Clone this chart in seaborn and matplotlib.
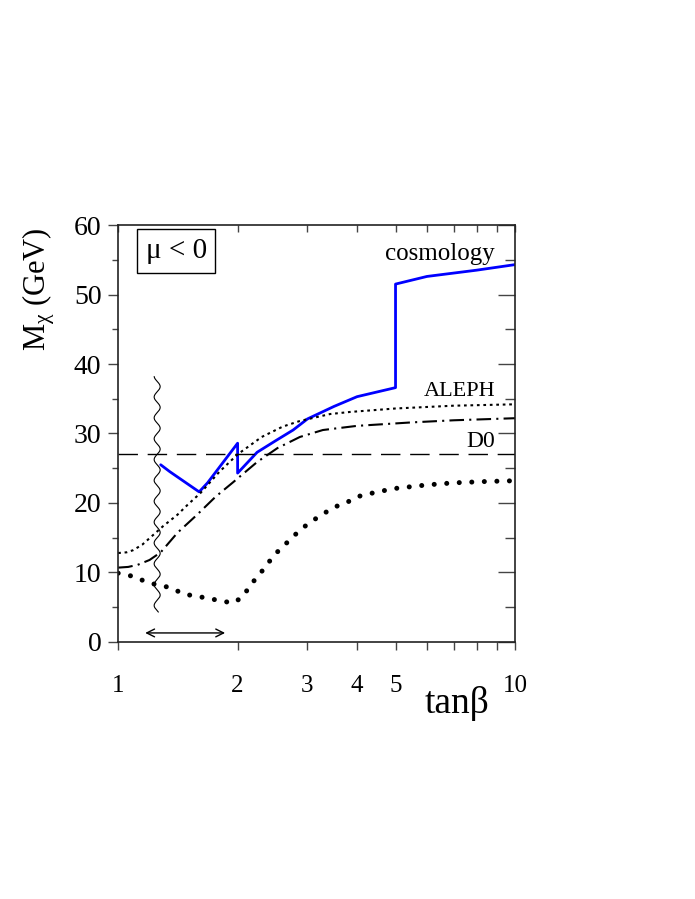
#!/usr/bin/env python3
"""
plot.py — neutralino mass limit vs tan(beta), mu < 0.
"""

import numpy as np
import pandas as pd
import matplotlib
matplotlib.use("Agg")
import matplotlib.pyplot as plt
from matplotlib.ticker import FixedLocator, NullFormatter
import seaborn as sns

# ---------------------------------------------------------------------------
# Data
# ---------------------------------------------------------------------------

cosmo_tanb = [1.28, 1.35, 1.60, 1.68, 2.00, 2.00, 2.24, 2.50, 2.76, 3.00, 3.50,
              4.00, 5.00, 5.00, 6.00, 8.00, 10.0]
cosmo_mass = [25.5, 24.5, 21.6, 22.9, 28.6, 24.3, 27.3, 29.0, 30.5, 32.1, 33.9,
              35.3, 36.6, 51.5, 52.6, 53.5, 54.3]

aleph_tanb = [1.00, 1.05, 1.09, 1.15, 1.22, 1.30, 1.41, 1.50, 1.61, 1.80, 2.00,
              2.30, 2.60, 2.87, 3.42, 3.84, 5.00, 7.00, 10.0]
aleph_mass = [12.8, 12.9, 13.2, 14.0, 15.3, 16.7, 18.3, 19.8, 21.4, 24.5, 27.0,
              29.5, 31.0, 31.8, 32.8, 33.1, 33.6, 34.0, 34.2]

dashdot_tanb = [1.00, 1.06, 1.12, 1.20, 1.28, 1.41, 1.58, 1.76, 1.95, 2.24,
                2.52, 2.87, 3.28, 4.00, 5.50, 7.00, 10.0]
dashdot_mass = [10.7, 10.8, 11.1, 11.8, 12.9, 15.7, 18.3, 20.9, 23.0, 25.9,
                27.9, 29.5, 30.5, 31.1, 31.6, 31.9, 32.2]

dots_tanb = [1.00, 1.10, 1.18, 1.26, 1.36, 1.46, 1.57, 1.68, 1.82, 1.95, 2.06,
             2.15, 2.25, 2.36, 2.46, 2.60, 2.74, 2.90, 3.08, 3.28, 3.50, 3.75,
             4.00, 4.50, 5.00, 6.00, 7.00, 8.50, 10.0]
dots_mass = [9.9, 9.4, 8.6, 8.2, 7.8, 6.9, 6.6, 6.3, 5.9, 5.6, 6.5,
             8.1, 9.5, 10.9, 12.4, 13.7, 15.0, 16.3, 17.4, 18.4, 19.4, 20.0,
             20.9, 21.6, 22.1, 22.6, 22.9, 23.1, 23.2]

d0_mass = 27.0

# excluded-region markers
wave_tanb = 1.254
wave_range = [4.3, 38.2]
arrow_tanb = [1.17, 1.86]
arrow_mass = 1.3

x_major = [1, 2, 3, 4, 5, 10]
x_minor = [6, 7, 8, 9]
y_major = [0, 10, 20, 30, 40, 50, 60]
y_minor = [5, 15, 25, 35, 45, 55]

# ---------------------------------------------------------------------------
# Style
# ---------------------------------------------------------------------------

sns.set_theme(style="white")
plt.rcParams.update({
    "font.family": ["Liberation Serif", "DejaVu Serif"],
    "mathtext.fontset": "custom",
    "mathtext.rm": "Liberation Serif",
    "mathtext.it": "Liberation Serif",
    "text.color": "black",
    "xtick.labelcolor": "black",
    "ytick.labelcolor": "black",
    "axes.edgecolor": "#222222",
    "axes.linewidth": 1.2,
})

fig = plt.figure(figsize=(6.95, 8.99), dpi=100)
ax = fig.add_axes([0.170, 0.2859, 0.571, 0.4638])
ax.set_xscale("log")

cosmo = pd.DataFrame({"tanb": cosmo_tanb, "mass": cosmo_mass})
aleph = pd.DataFrame({"tanb": aleph_tanb, "mass": aleph_mass})
dashdot = pd.DataFrame({"tanb": dashdot_tanb, "mass": dashdot_mass})
dots = pd.DataFrame({"tanb": dots_tanb, "mass": dots_mass})

sns.lineplot(data=cosmo, x="tanb", y="mass", ax=ax, sort=False,
             estimator=None, color="#0000ff", lw=2.0)
sns.lineplot(data=aleph, x="tanb", y="mass", ax=ax, estimator=None,
             color="black", lw=1.5, linestyle=(0, (1.3, 1.8)))
sns.lineplot(data=dashdot, x="tanb", y="mass", ax=ax, estimator=None,
             color="black", lw=1.5, linestyle=(0, (7, 2.5, 1, 2.5)))
l = sns.lineplot(data=dots, x="tanb", y="mass", ax=ax, estimator=None,
                 color="black", lw=3.6, linestyle=(0, (0.01, 2.5)))
l.lines[-1].set_dash_capstyle("round")

ax.axhline(d0_mass, color="black", lw=1.0, linestyle=(0, (14, 7)))

# wavy vertical boundary
wy = np.linspace(wave_range[0], wave_range[1], 600)
wx = wave_tanb * 10 ** (3.0 / 397 * np.sin(2 * np.pi * wy / 3.0))
ax.plot(wx, wy, color="black", lw=0.8)

ax.annotate("", xy=(arrow_tanb[1], arrow_mass), xytext=(arrow_tanb[0], arrow_mass),
            arrowprops=dict(arrowstyle="<->", lw=1.0, color="black",
                            mutation_scale=14, shrinkA=0, shrinkB=0))

# labels
ax.text(0.146, 0.938, r"μ < 0", transform=ax.transAxes, fontsize=21,
        ha="center", va="center",
        bbox=dict(boxstyle="square,pad=0.3", fc="white", ec="black", lw=1.0))
ax.text(8.9, 55.8, "cosmology", fontsize=18, ha="right", va="center")
ax.text(8.9, 36.0, "ALEPH", fontsize=16, ha="right", va="center")
ax.text(8.9, 28.9, "D0", fontsize=17, ha="right", va="center")

ax.set_xlim(1, 10)
ax.set_ylim(0, 60)

ax.xaxis.set_major_locator(FixedLocator(x_major))
ax.xaxis.set_minor_locator(FixedLocator(x_minor))
ax.xaxis.set_minor_formatter(NullFormatter())
ax.set_xticklabels([str(v) for v in x_major])
ax.yaxis.set_major_locator(FixedLocator(y_major))
ax.yaxis.set_minor_locator(FixedLocator(y_minor))

ax.tick_params(axis="x", which="both", direction="out", length=6, width=1.0,
               labelsize=18, pad=18, bottom=True, color="#444444")
ax.tick_params(axis="y", which="major", direction="out", length=7, width=1.0,
               labelsize=20, pad=5, left=True, color="#444444")
ax.tick_params(axis="y", which="minor", direction="out", length=4, width=1.0,
               left=True, color="#444444")

top = ax.secondary_xaxis("top")
top.xaxis.set_major_locator(FixedLocator(x_major + x_minor))
top.xaxis.set_minor_locator(FixedLocator([]))
top.tick_params(direction="in", length=5, width=1.0, labeltop=False,
                color="#444444")
top.spines["top"].set_visible(False)

right = ax.secondary_yaxis("right")
right.yaxis.set_major_locator(FixedLocator(y_major))
right.yaxis.set_minor_locator(FixedLocator(y_minor))
right.tick_params(which="major", direction="in", length=12, width=1.0,
                  labelright=False, color="#444444")
right.tick_params(which="minor", direction="in", length=7, width=1.0,
                  color="#444444")
right.spines["right"].set_visible(False)

ax.set_xlabel("")
ax.set_ylabel("")
fig.text(0.657, 0.218, "tanβ", fontsize=27, ha="center", va="center")
fig.text(0.055, 0.678, r"M$_{\chi}$ (GeV)", fontsize=22, ha="center",
         va="center", rotation=90)

fig.savefig("out.png", dpi=100)
